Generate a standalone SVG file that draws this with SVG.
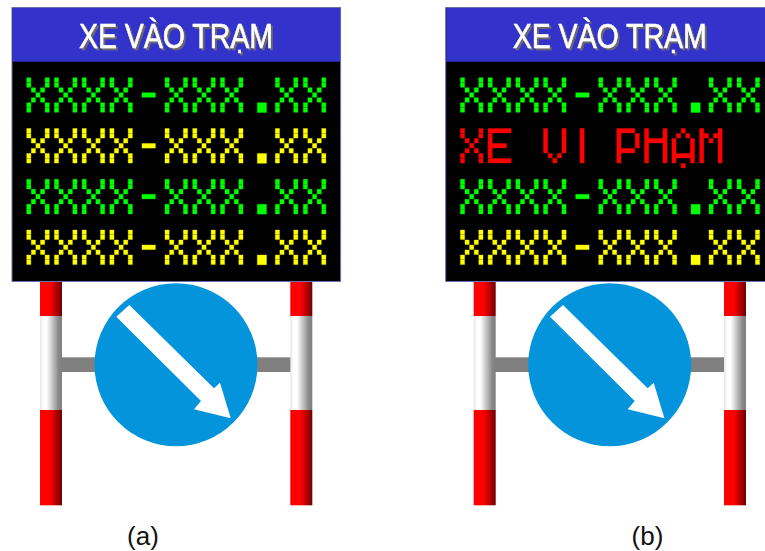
<svg xmlns="http://www.w3.org/2000/svg" width="765" height="551" viewBox="0 0 765 551">
  <style>
    .board { fill: #000; stroke: #7070a8; stroke-width: 1; }
    .head { fill: #3333cc; }
    .title { font: 35px "Liberation Sans", Arial, sans-serif; fill: #fff; stroke: #fff; stroke-width: 0.5; text-anchor: middle; filter: url(#shadow); }
    .cap { font: 26px "Liberation Sans", Arial, sans-serif; fill: #111; text-anchor: middle; }
    .green { fill: #00ff00; stroke: #00ff00; stroke-width: 0.35; }
    .yellow { fill: #ffff00; stroke: #ffff00; stroke-width: 0.35; }
    .red { fill: #ff0000; stroke: #ff0000; stroke-width: 0.35; }
    .led { filter: url(#soft); }
    .bar { fill: #808080; }
    .disc { fill: #0494dc; }
    .arrow { fill: #fff; }
  </style>
  <defs>
    <linearGradient id="redPost"><stop offset="0" stop-color="#f00"/><stop offset="0.45" stop-color="#f00"/><stop offset="1" stop-color="#700000"/></linearGradient>
    <linearGradient id="whitePost"><stop offset="0" stop-color="#e6e6e6"/><stop offset="0.15" stop-color="#fff"/><stop offset="0.3" stop-color="#fff"/><stop offset="0.85" stop-color="#868686"/><stop offset="1" stop-color="#808080"/></linearGradient>
    <filter id="shadow" x="-5%" y="-20%" width="110%" height="140%"><feDropShadow dx="2" dy="2" stdDeviation="0.6" flood-color="#6a6a6a"/></filter>
    <filter id="soft" x="-2%" y="-5%" width="104%" height="110%"><feGaussianBlur stdDeviation="0.25"/></filter>
    <path id="X" d="M0 0h4.2v4.6h-4.2z M0 5h4.2v4.6h-4.2z M18.4 0h4.2v4.6h-4.2z M18.4 5h4.2v4.6h-4.2z M4.6 10h4.2v4.6h-4.2z M13.8 10h4.2v4.6h-4.2z M9.2 15h4.2v4.6h-4.2z M4.6 20h4.2v4.6h-4.2z M13.8 20h4.2v4.6h-4.2z M0 25h4.2v4.6h-4.2z M0 30h4.2v4.6h-4.2z M18.4 25h4.2v4.6h-4.2z M18.4 30h4.2v4.6h-4.2z"/>
    <path id="dash" d="M0 15h13.4v4.6h-13.4z"/>
    <g id="prefix"><use href="#X" x="0"/><use href="#X" x="27.7"/><use href="#X" x="55.4"/><use href="#X" x="83.1"/></g>
    <g id="line">
      <use href="#prefix"/>
      <use href="#dash" x="115.3"/>
      <use href="#X" x="138.3"/><use href="#X" x="166"/><use href="#X" x="193.7"/>
      <path d="M230.6 25h9.2v9.8h-9.2z"/>
      <use href="#X" x="248.6"/><use href="#X" x="276.6"/>
    </g>
    <g id="mount">
      <rect class="bar" x="60" y="357.3" width="232" height="14.7"/>
      <rect x="40" y="282" width="22" height="34" fill="url(#redPost)"/>
      <rect x="40" y="316" width="22" height="94" fill="url(#whitePost)"/>
      <rect x="40" y="410" width="22" height="95.3" fill="url(#redPost)"/>
      <rect x="290.3" y="282" width="22" height="34" fill="url(#redPost)"/>
      <rect x="290.3" y="316" width="22" height="94" fill="url(#whitePost)"/>
      <rect x="290.3" y="410" width="22" height="95.3" fill="url(#redPost)"/>
      <circle class="disc" cx="176" cy="364.7" r="81.5"/>
      <path class="arrow" d="M116.3 316.7L129.3 305L214 388.3L220 382.7L230.7 418.3L194 409.3L201 401Z"/>
    </g>
  </defs>

  <rect width="765" height="551" fill="#fff"/>

  <g id="sign-a">
    <use href="#mount"/>
    <rect class="board" x="12" y="7.5" width="328.6" height="274"/>
    <rect class="head" x="12.5" y="8" width="327.6" height="53.7"/>
    <text class="title" x="176" y="48.3" textLength="194" lengthAdjust="spacingAndGlyphs">XE VÀO TRẠM</text>
    <g class="led">
      <use class="green" href="#line" x="26.7" y="77.7"/>
      <use class="yellow" href="#line" x="26.7" y="128.5"/>
      <use class="green" href="#line" x="26.7" y="179.3"/>
      <use class="yellow" href="#line" x="26.7" y="230"/>
    </g>
    <text class="cap" x="143" y="544.5">(a)</text>
  </g>

  <g id="sign-b">
    <use href="#mount" x="433.7"/>
    <rect class="board" x="445.7" y="7.5" width="328.6" height="274"/>
    <rect class="head" x="446.2" y="8" width="327.6" height="53.7"/>
    <text class="title" x="609.7" y="48.3" textLength="194" lengthAdjust="spacingAndGlyphs">XE VÀO TRẠM</text>
    <g class="led">
      <use class="green" href="#line" x="460.4" y="77.7"/>
      <use class="green" href="#line" x="460.4" y="179.3"/>
      <use class="yellow" href="#line" x="460.4" y="230"/>
      <g class="red" transform="translate(460.4 128.4)">
        <use href="#X"/>
        <path d="M27.7 0h23v4.6h-23z M27.7 5h4.2v24.6h-4.2z M27.7 15h18.4v4.6h-18.4z M27.7 30h23v4.6h-23z"/>
        <path d="M83.1 0h4.2v24.6h-4.2z M101.5 0h4.2v24.6h-4.2z M87.7 25h4.2v4.6h-4.2z M96.9 25h4.2v4.6h-4.2z M92.3 30h4.2v4.6h-4.2z"/>
        <path d="M119.6 0h4.2v34.6h-4.2z"/>
        <path d="M156.4 0h4.2v34.6h-4.2z M160.6 0h13.8v4.6h-13.8z M174.8 5h4.2v14.6h-4.2z M160.6 20h13.8v4.6h-13.8z"/>
        <path d="M184.1 0h4.2v34.6h-4.2z M202.5 0h4.2v34.6h-4.2z M188.3 10h14.2v4.6h-14.2z"/>
        <path d="M220.7 0h4.2v4.6h-4.2z M216.1 5h4.2v4.6h-4.2z M225.3 5h4.2v4.6h-4.2z M211.5 10h4.2v24.6h-4.2z M229.9 10h4.2v24.6h-4.2z M215.7 25h14.2v4.6h-14.2z M220.7 35h4.2v4.6h-4.2z"/>
        <path d="M239.2 0h4.2v34.6h-4.2z M257.6 0h4.2v34.6h-4.2z M243.8 5h4.2v4.6h-4.2z M253 5h4.2v4.6h-4.2z M248.4 10h4.2v4.6h-4.2z"/>
      </g>
    </g>
    <text class="cap" x="647.5" y="544.5">(b)</text>
  </g>
</svg>
